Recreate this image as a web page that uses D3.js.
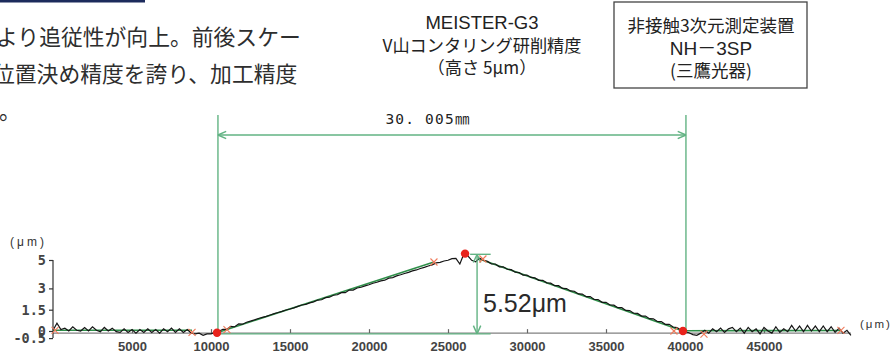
<!DOCTYPE html>
<html><head><meta charset="utf-8">
<script src="https://cdn.jsdelivr.net/npm/d3@7"></script>
<style>body{margin:0;background:#fff} svg{display:block}</style>
</head><body><svg id="c" width="895" height="354"></svg>
<script>
// ---------------- data ----------------
const introLines = ["より追従性が向上。前後スケー", "位置決め精度を誇り、加工精度", "。"];
const titleLines = ["MEISTER-G3", "V山コンタリング研削精度", "（高さ 5μm）"];
const boxLines = ["非接触3次元測定装置", "NH－3SP", "(三鷹光器)"];
const xTicks = [5000, 10000, 15000, 20000, 25000, 30000, 35000, 40000, 45000];
const xTickLabels = ["5000", "10000", "15000", "20000", "25000", "30000", "35000", "40000", "45000"];
const yTicks = [5, 3, 1.5, 0, -0.5];
const yTickLabels = ["5", "3", "1.5", "0", "-0.5"];
const unitLabel = "(μm)";
// measured profile height (µm), sampled every 250 µm from 0 to 50500 µm
const profileStep = 250;
const profileZ = [
  0.05, 0.55, 0.1, 0.2,    0.0, 0.3, 0.05, 0.0,     0.25, 0.0, 0.3, 0.05,    -0.05, 0.25, 0.0, 0.2,
  -0.05, -0.1, 0.15, -0.1, 0.1, -0.15, 0.1, -0.1,   0.15, -0.1, 0.1, -0.15,  0.15, -0.05, 0.2, -0.1,
  0.15, -0.1, 0.1, -0.15,  -0.2, -0.15, -0.3, -0.2, -0.2, -0.1, -0.02, 0.12, 0.12, 0.32, 0.3, 0.5,
  0.48, 0.62, 0.7, 0.78,   0.88, 0.96, 1.03, 1.13,  1.22, 1.3, 1.38, 1.48,  1.55, 1.63, 1.73, 1.83,
  1.88, 1.98, 2.05, 2.18,  2.2, 2.35, 2.38, 2.52,   2.55, 2.7, 2.7, 2.88,    2.88, 3.03, 3.08, 3.18,
  3.26, 3.36, 3.43, 3.53,  3.58, 3.72, 3.76, 3.88,  3.96, 4.05, 4.13, 4.23,  4.3, 4.4, 4.48, 4.58,
  4.66, 4.8, 4.83, 4.93,   4.98, 5.1, 5.12, 4.72,   5.42, 5.3, 4.98, 4.88,   5.12, 4.98, 4.9, 4.72,
  4.72, 4.52, 4.52, 4.35,  4.32, 4.14, 4.12, 3.94,  3.94, 3.77, 3.74, 3.57,  3.57, 3.39, 3.37, 3.19,
  3.19, 3.0, 2.99, 2.82,   2.8, 2.61, 2.6, 2.42,    2.42, 2.22, 2.22, 2.02,  2.02, 1.83, 1.82, 1.64,
  1.64, 1.45, 1.44, 1.25,  1.24, 1.05, 1.05, 0.87,  0.86, 0.67, 0.66, 0.47,  0.47, 0.28, 0.24, 0.06,
  -0.05, -0.12, -0.25, -0.3, -0.15, 0.05, -0.15, 0.15, -0.05, 0.2, -0.1, 0.15, 0.25, -0.05, 0.2, -0.15,
  0.25, -0.05, 0.15, -0.2, 0.25, 0.0, -0.15, 0.3,   -0.1, 0.15, -0.05, 0.4,  0.0, 0.35, -0.05, 0.4,
  0.0, 0.35, -0.05, 0.35,  -0.05, 0.3, -0.1, 0.2,   -0.15, 0.05, -0.3
];
// fitted reference lines [x1, z1, x2, z2]
const fitSegments = [
  [0, 0.05, 8800, 0.05],
  [10380, -0.12, 24110, 4.86],
  [26900, 5.1, 39870, 0.0],
  [39870, 0.02, 49870, 0.03]
];
const peakPoints = [[10380, -0.12], [26080, 5.45], [39870, 0.0]];
const crossPoints = [[130, 0.05], [8800, -0.1], [11010, 0.1], [24110, 4.86], [27210, 5.07], [39300, 0.0], [41200, -0.22], [49870, 0.05]];
const spanX = [10440, 40060];
const spanLabel = "30. 005㎜";
const heightX = 26840;
const heightZ = [-0.2, 5.4];
const heightLabel = "5.52μm";
const axisBaseZ = -0.15;
const axisEndX = 50500;

// ---------------- drawing ----------------
const svg = d3.select("#c");
svg.append("rect").attr("width", 895).attr("height", 354).attr("fill", "#fff");

const x = d3.scaleLinear().domain([0, 45000]).range([53, 764]);
const y = d3.scaleLinear().domain([0, 5]).range([331, 260]);

const jp = "'Noto Sans CJK JP', 'Noto Sans', sans-serif";
const latinJp = "'Liberation Sans', 'Noto Sans CJK JP', sans-serif";
const dimColor = "#62b383";
const fitColor = "#2f8f4a";

// header bar and intro text
svg.append("rect").attr("x", 0).attr("y", 0).attr("width", 145).attr("height", 2.5).attr("fill", "#1c2b5c");
const introX = [-4, -7, -1];
svg.selectAll("text.intro").data(introLines).join("text").attr("class", "intro")
  .attr("x", (d, i) => introX[i]).attr("y", (d, i) => 45 + i * 37)
  .attr("font-family", jp).attr("font-size", 21.8).attr("fill", "#2e2e2e").text(d => d);

// title
svg.selectAll("text.title").data(titleLines).join("text").attr("class", "title")
  .attr("x", 482).attr("y", (d, i) => [29, 52, 74][i]).attr("text-anchor", "middle")
  .attr("font-family", (d, i) => i === 0 ? latinJp : jp)
  .attr("font-size", (d, i) => i === 0 ? 18.5 : 17.2).attr("fill", "#222").text(d => d);

// instrument box
svg.append("rect").attr("x", 614).attr("y", 2).attr("width", 193).attr("height", 86)
  .attr("fill", "none").attr("stroke", "#444").attr("stroke-width", 1.3);
svg.selectAll("text.box").data(boxLines).join("text").attr("class", "box")
  .attr("x", 711).attr("y", (d, i) => [32, 55, 77][i]).attr("text-anchor", "middle")
  .attr("font-family", (d, i) => i === 1 ? latinJp : jp)
  .attr("font-size", (d, i) => i === 1 ? 19 : 17.5).attr("fill", "#222").text(d => d);

// axes
svg.append("line").attr("x1", x(0)).attr("x2", x(axisEndX)).attr("y1", y(axisBaseZ)).attr("y2", y(axisBaseZ))
  .attr("stroke", "#808080").attr("stroke-width", 1.3);
const gx = svg.append("g").attr("transform", `translate(0,${y(axisBaseZ)})`)
  .call(d3.axisBottom(x).tickValues(xTicks).tickSize(-4).tickSizeOuter(0).tickPadding(9)
    .tickFormat((d, i) => xTickLabels[i]));
gx.select(".domain").remove();
gx.selectAll(".tick line").attr("stroke", "#666").attr("stroke-width", 1.2);
gx.selectAll(".tick text").attr("font-family", "'Liberation Sans', Arial, sans-serif")
  .attr("font-size", 13).attr("font-weight", "bold").attr("fill", "#444");

svg.append("line").attr("x1", x(0)).attr("x2", x(0)).attr("y1", y(-0.5)).attr("y2", y(5))
  .attr("stroke", "#333").attr("stroke-width", 1.2);
const gy = svg.append("g").attr("transform", `translate(${x(0)},0)`)
  .call(d3.axisLeft(y).tickValues(yTicks).tickSize(4).tickSizeOuter(0).tickPadding(3)
    .tickFormat((d, i) => yTickLabels[i]));
gy.select(".domain").remove();
gy.selectAll(".tick line").attr("stroke", "#333").attr("stroke-width", 1.2);
gy.selectAll(".tick text").attr("font-family", "'DejaVu Sans Mono', 'Liberation Mono', monospace")
  .attr("font-size", 13.5).attr("font-weight", "bold").attr("fill", "#444");

svg.append("text").attr("x", 10).attr("y", 246).attr("font-family", "'Liberation Sans', Arial, sans-serif")
  .attr("font-size", 12).attr("letter-spacing", 3).attr("fill", "#333").text(unitLabel);
svg.append("text").attr("x", 860).attr("y", 328).attr("font-family", "'Liberation Sans', Arial, sans-serif")
  .attr("font-size", 11.5).attr("letter-spacing", 2).attr("fill", "#333").text(unitLabel);

// fitted lines
svg.selectAll("line.fit").data(fitSegments).join("line").attr("class", "fit")
  .attr("x1", d => x(d[0])).attr("y1", d => y(d[1])).attr("x2", d => x(d[2])).attr("y2", d => y(d[3]))
  .attr("stroke", fitColor).attr("stroke-width", 1.6);

// profile
const profile = profileZ.map((z, i) => [i * profileStep, z]);
svg.append("path").datum(profile)
  .attr("d", d3.line().x(d => x(d[0])).y(d => y(d[1])))
  .attr("fill", "none").attr("stroke", "#151515").attr("stroke-width", 1.2);

// dimension: span
const topY = 135;
const dim = svg.append("g").attr("stroke", dimColor).attr("stroke-width", 1.4).attr("fill", "none");
spanX.forEach(v => {
  dim.append("line").attr("x1", x(v)).attr("x2", x(v)).attr("y1", 115).attr("y2", y(-0.1));
});
dim.append("line").attr("x1", x(spanX[0])).attr("x2", x(spanX[1])).attr("y1", topY).attr("y2", topY);
function arrow(g, px, py, dx, dy) {
  const L = 9, a = 0.42;
  const ang = Math.atan2(dy, dx);
  [ang + Math.PI - a, ang + Math.PI + a].forEach(t => {
    g.append("line").attr("x1", px).attr("y1", py)
      .attr("x2", px + L * Math.cos(t)).attr("y2", py + L * Math.sin(t));
  });
}
arrow(dim, x(spanX[0]), topY, -1, 0);
arrow(dim, x(spanX[1]), topY, 1, 0);
svg.append("text").attr("x", 428).attr("y", 124).attr("text-anchor", "middle")
  .attr("font-family", "'DejaVu Sans Mono', 'Noto Sans CJK JP', monospace").attr("font-size", 14.5)
  .attr("letter-spacing", 1.2).attr("fill", "#222").text(spanLabel);

// dimension: height
dim.append("line").attr("x1", x(peakPoints[0][0])).attr("x2", x(27700))
  .attr("y1", y(heightZ[0])).attr("y2", y(heightZ[0]));
dim.append("line").attr("x1", x(26400)).attr("x2", x(27700))
  .attr("y1", y(heightZ[1])).attr("y2", y(heightZ[1]));
dim.append("line").attr("x1", x(heightX)).attr("x2", x(heightX))
  .attr("y1", y(heightZ[1])).attr("y2", y(heightZ[0]));
arrow(dim, x(heightX), y(heightZ[1]), 0, -1);
arrow(dim, x(heightX), y(heightZ[0]), 0, 1);
svg.append("text").attr("x", 483).attr("y", 312)
  .attr("font-family", "'Liberation Sans', Arial, sans-serif").attr("font-size", 25)
  .attr("fill", "#2a2a2a").text(heightLabel);

// cross markers
const cs = 3.5;
const cg = svg.append("g").attr("stroke", "#f07a5a").attr("stroke-width", 1.1);
crossPoints.forEach(d => {
  const cx = x(d[0]), cy = y(d[1]);
  cg.append("line").attr("x1", cx - cs).attr("y1", cy - cs).attr("x2", cx + cs).attr("y2", cy + cs);
  cg.append("line").attr("x1", cx - cs).attr("y1", cy + cs).attr("x2", cx + cs).attr("y2", cy - cs);
});

// red points
svg.selectAll("circle.pk").data(peakPoints).join("circle").attr("class", "pk")
  .attr("cx", d => x(d[0])).attr("cy", d => y(d[1])).attr("r", 4.2).attr("fill", "#e8231c");
</script></body></html>
